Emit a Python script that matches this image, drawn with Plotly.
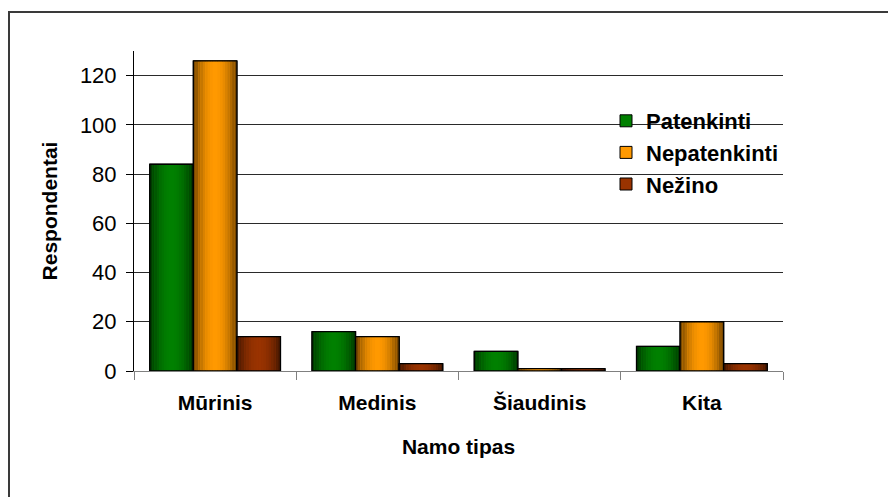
import plotly.graph_objects as go

# ---- data -------------------------------------------------------------
categories = ["Mūrinis", "Medinis", "Šiaudinis", "Kita"]
series_names = ["Patenkinti", "Nepatenkinti", "Nežino"]
patenkinti = [84, 16, 8, 10]
nepatenkinti = [126, 14, 1, 20]
nezino = [14, 3, 1, 3]
y_ticks = [0, 20, 40, 60, 80, 100, 120]
x_title = "Namo tipas"
y_title = "Respondentai"

series_values = [patenkinti, nepatenkinti, nezino]

# ---- styling ------------------------------------------------------------
W, H = 888, 497
L, R, T, B = 134, 783, 51, 371          # plot area in pixels
FONT = "Liberation Sans, Arial, sans-serif"
base_rgb = [(0, 128, 0), (255, 153, 0), (153, 51, 0)]
N_SLICES = 18
BAR_W = 0.2686                            # each bar's width in category units
GROUP_START = -1.5 * BAR_W


def px_x(px):
    return (px - L) / (R - L)


def px_y(py):
    return (B - py) / (B - T)


def shade(rgb, t):
    # darker at both edges, full colour in the middle (cylinder-like look)
    f = 1 - 0.6 * abs(2 * t - 1) ** 2.0
    return "rgb({},{},{})".format(*[int(round(c * f)) for c in rgb])


fig = go.Figure()

for i, (name, vals, rgb) in enumerate(zip(series_names, series_values, base_rgb)):
    off = GROUP_START + i * BAR_W
    # solid base bar (also provides the legend swatch)
    fig.add_trace(go.Bar(
        x=categories, y=vals, name=name, width=BAR_W, offset=off,
        marker=dict(color="rgb({},{},{})".format(*rgb),
                    line=dict(color="black", width=1)),
        legendgroup=name, hoverinfo="skip",
    ))
    # gradient slices
    sw = BAR_W / N_SLICES
    for j in range(N_SLICES):
        t = (j + 0.5) / N_SLICES
        fig.add_trace(go.Bar(
            x=categories, y=vals, width=sw, offset=off + j * sw,
            marker=dict(color=shade(rgb, t), line=dict(width=0)),
            showlegend=False, legendgroup=name, hoverinfo="skip",
        ))
    # outline on top
    fig.add_trace(go.Bar(
        x=categories, y=vals, width=BAR_W, offset=off,
        marker=dict(color="rgba(0,0,0,0)", line=dict(color="black", width=1.3)),
        showlegend=False, legendgroup=name, hoverinfo="skip",
    ))

shapes = [
    # white panel behind the legend, hides the grid there
    dict(type="rect", xref="paper", yref="paper", layer="between",
         x0=px_x(560), x1=px_x(784), y0=px_y(212), y1=px_y(88),
         fillcolor="white", line=dict(width=0)),
    # chart frame
    dict(type="rect", xref="paper", yref="paper", layer="above",
         x0=px_x(9), x1=px_x(920), y0=px_y(530), y1=px_y(12),
         fillcolor="rgba(0,0,0,0)", line=dict(color="#3a3a3a", width=2)),
]

fig.update_layout(
    width=W, height=H,
    margin=dict(l=L, r=W - R, t=T, b=H - B, pad=0),
    paper_bgcolor="white", plot_bgcolor="white",
    barmode="overlay",
    font=dict(family=FONT, color="black"),
    showlegend=True,
    legend=dict(
        x=px_x(606), y=px_y(100), xanchor="left", yanchor="top",
        bgcolor="rgba(0,0,0,0)",
        font=dict(family=FONT, size=22, color="black", weight="bold"),
        traceorder="normal", itemclick=False, itemdoubleclick=False,
    ),
    shapes=shapes,
    xaxis=dict(
        type="category", categoryorder="array", categoryarray=categories,
        range=[-0.5, len(categories) - 0.5],
        tickson="boundaries", ticks="outside", ticklen=8,
        tickcolor="#808080", tickwidth=1,
        showline=True, linecolor="#808080", linewidth=1,
        showgrid=False, zeroline=False,
        tickfont=dict(family=FONT, size=21, color="black", weight="bold"),
        ticklabelstandoff=13,
        title=dict(text=x_title, standoff=26,
                   font=dict(family=FONT, size=21, color="black", weight="bold")),
    ),
    yaxis=dict(
        range=[0, 130], tickvals=y_ticks, ticktext=[str(v) for v in y_ticks],
        ticks="outside", ticklen=7, tickcolor="black", tickwidth=1,
        showline=True, linecolor="black", linewidth=1,
        showgrid=True, gridcolor="#2a2a2a", gridwidth=1, zeroline=False,
        tickfont=dict(family=FONT, size=22, color="black"),
        ticklabelstandoff=5,
        title=dict(text=y_title, standoff=16,
                   font=dict(family=FONT, size=21, color="black", weight="bold")),
    ),
)

fig.write_html("out.html")
